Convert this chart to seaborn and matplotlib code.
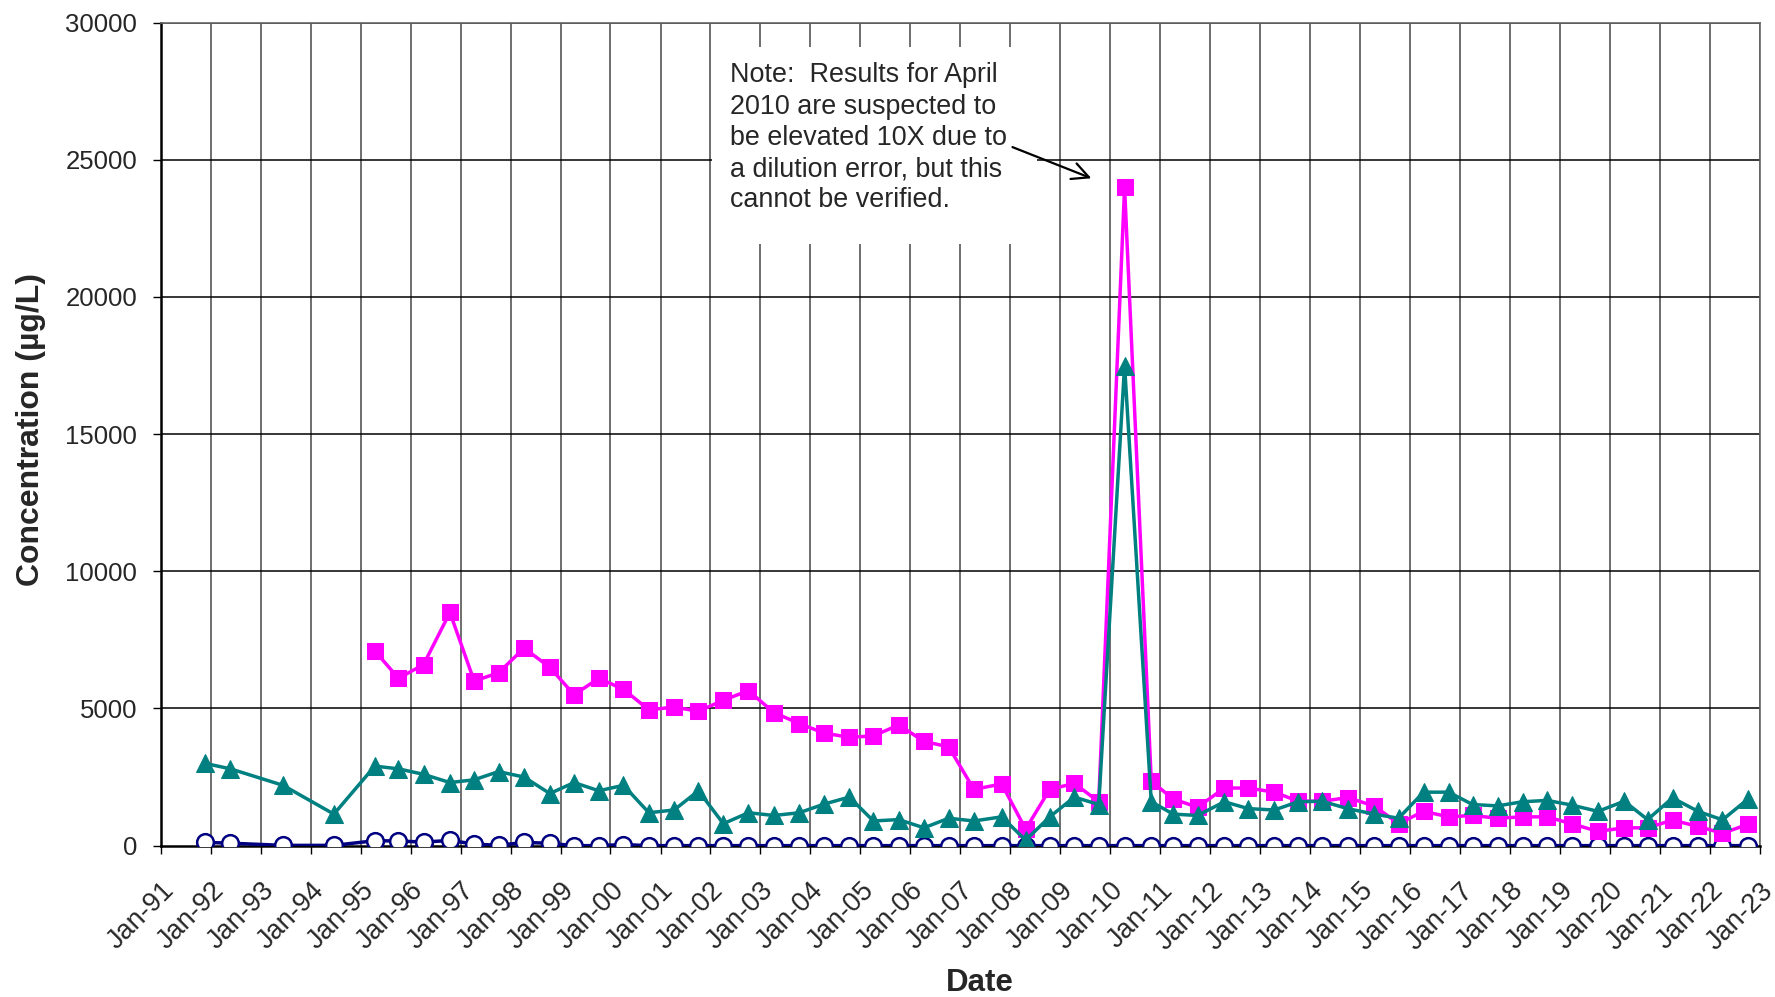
import matplotlib
matplotlib.use("Agg")
import matplotlib.pyplot as plt
import matplotlib.dates as mdates
from matplotlib.patches import Rectangle
import numpy as np
import pandas as pd
import seaborn as sns

# Sampling dates (roughly semi-annual)
sample_dates = [
    "1991-11-20", "1992-05-25", "1993-06-13", "1994-06-20", "1995-04-15", "1995-10-05",
    "1996-04-05", "1996-10-15", "1997-04-10", "1997-10-05", "1998-04-10", "1998-10-15",
    "1999-04-10", "1999-10-08", "2000-04-05", "2000-10-08", "2001-04-10", "2001-10-05",
    "2002-04-05", "2002-10-05", "2003-04-10", "2003-10-12", "2004-04-13", "2004-10-12",
    "2005-04-05", "2005-10-08", "2006-04-10", "2006-10-08", "2007-04-10", "2007-10-30",
    "2008-04-22", "2008-10-15", "2009-04-13", "2009-10-08", "2010-04-15", "2010-10-27",
    "2011-04-05", "2011-10-01", "2012-04-13", "2012-10-05", "2013-04-13", "2013-10-05",
    "2014-03-28", "2014-10-01", "2015-04-13", "2015-10-08", "2016-04-08", "2016-10-08",
    "2017-04-01", "2017-10-01", "2018-04-01", "2018-09-28", "2019-03-25", "2019-10-05",
    "2020-04-13", "2020-10-01", "2021-04-01", "2021-10-05", "2022-04-01", "2022-10-05",
]

# Concentrations in ug/L (magenta series starts in 1995)
magenta_values = [
    None, None, None, None,
    7100, 6100, 6600, 8500, 6000, 6300, 7200, 6500, 5500, 6100,
    5700, 4950, 5050, 4900, 5300, 5650, 4850, 4450, 4100, 3950,
    4000, 4400, 3800, 3600, 2050, 2250, 600, 2050, 2270, 1600,
    24000, 2350, 1700, 1400, 2100, 2100, 1950, 1620, 1620, 1750,
    1450, 800, 1250, 1050, 1100, 1000, 1050, 1050, 800, 520,
    650, 650, 930, 700, 450, 780,
]
teal_values = [
    3000, 2800, 2200, 1150, 2900, 2800, 2600, 2300, 2400, 2700,
    2500, 1900, 2300, 2000, 2200, 1200, 1300, 2000, 800, 1200,
    1100, 1200, 1520, 1770, 900, 950, 650, 1000, 900, 1050,
    200, 1050, 1770, 1500, 17500, 1600, 1150, 1100, 1600, 1350,
    1300, 1600, 1620, 1350, 1150, 1000, 1950, 1950, 1500, 1450,
    1600, 1650, 1480, 1250, 1620, 950, 1740, 1250, 940, 1700,
]
navy_values = [
    120, 90, 10, 10, 180, 170, 130, 190, 60, 10,
    120, 85, 0, 0, 40, 0, 0, 0, 0, 0,
    0, 0, 0, 0, 0, 0, 0, 0, 0, 0,
    0, 0, 0, 0, 0, 0, 0, 0, 0, 0,
    0, 0, 0, 0, 0, 0, 0, 0, 0, 0,
    0, 0, 0, 0, 0, 0, 0, 0, 0, 0,
]

y_ticks = [0, 5000, 10000, 15000, 20000, 25000, 30000]
note_text = ("Note:  Results for April\n2010 are suspected to\nbe elevated 10X due to\n"
             "a dilution error, but this\ncannot be verified.")

sns.set_style("white")
plt.rcParams["font.family"] = ["Liberation Sans", "DejaVu Sans"]

df = pd.DataFrame({
    "date": pd.to_datetime(sample_dates),
    "magenta": magenta_values,
    "teal": teal_values,
    "navy": navy_values,
})
df["magenta"] = pd.to_numeric(df["magenta"])

fig = plt.figure(figsize=(17.75, 9.97), dpi=100)
ax = fig.add_axes([0.0905, 0.1518, 0.9011, 0.8255])

sns.lineplot(data=df, x="date", y="navy", ax=ax, color="#000080", lw=2.5,
             marker="o", markersize=12, markerfacecolor="white",
             markeredgecolor="#000080", markeredgewidth=1.8, zorder=3)
sns.lineplot(data=df.dropna(subset=["magenta"]), x="date", y="magenta", ax=ax,
             color="#FF00FF", lw=2.5, marker="s", markersize=11.5,
             markeredgecolor="#FF00FF", zorder=4)
sns.lineplot(data=df, x="date", y="teal", ax=ax, color="#008080", lw=2.5,
             marker="^", markersize=13, markeredgecolor="#008080", zorder=5)

x_start, x_end = pd.Timestamp("1991-01-01"), pd.Timestamp("2023-01-01")
ax.set_xlim(x_start, x_end)
ax.set_ylim(0, 30000)
ax.set_yticks(y_ticks)
ax.set_yticklabels([str(v) for v in y_ticks], fontsize=18.5)

ax.xaxis.set_major_locator(mdates.YearLocator(1, month=1, day=1))
ax.xaxis.set_major_formatter(mdates.DateFormatter("%b-%y"))
for lbl in ax.get_xticklabels():
    lbl.set_rotation(45)
    lbl.set_ha("right")
    lbl.set_rotation_mode("anchor")
    lbl.set_fontsize(19.5)

ax.tick_params(axis="both", direction="out", length=6, width=1, color="black",
               bottom=True, left=True)
ax.tick_params(axis="y", pad=11)
ax.tick_params(axis="x", pad=17)

# Grid: grey verticals every year, black horizontals every 5000
ax.grid(False)
for yv in y_ticks[1:]:
    ax.axhline(yv, color="black", lw=1.1, zorder=1)
ax.xaxis.grid(True, color="#555555", lw=1.2, zorder=1)
ax.set_axisbelow(True)

for side in ["top", "right"]:
    ax.spines[side].set_color("#666666")
    ax.spines[side].set_linewidth(1.2)
for side in ["left", "bottom"]:
    ax.spines[side].set_color("black")
    ax.spines[side].set_linewidth(1.8)

ax.set_xlabel("Date", fontsize=22.5, fontweight="bold")
ax.xaxis.set_label_coords(0.512, -0.167)
ax.xaxis.label.set_va("center")
ax.set_ylabel("Concentration (µg/L)", fontsize=23, fontweight="bold",
              family=["Liberation Sans Narrow", "Liberation Sans", "DejaVu Sans"])
ax.yaxis.set_label_coords(-0.081, 0.506)
ax.yaxis.label.set_va("center")

# White note box that hides the grid behind it
box_x0 = mdates.date2num(pd.Timestamp("2002-01-10"))
box_x1 = mdates.date2num(pd.Timestamp("2008-07-15"))
ax.add_patch(Rectangle((box_x0, 21930), box_x1 - box_x0, 29110 - 21930,
                       facecolor="white", edgecolor="none", zorder=2))
ax.text(pd.Timestamp("2002-05-20"), 28550, note_text, fontsize=19.4, va="top",
        ha="left", linespacing=1.26, zorder=6)
ax.annotate("", xy=(pd.Timestamp("2009-09-03"), 24290),
            xytext=(pd.Timestamp("2007-12-29"), 25500),
            arrowprops=dict(arrowstyle="->", color="black", lw=1.6,
                            mutation_scale=30),
            zorder=7)

fig.savefig("out.png", dpi=100)
